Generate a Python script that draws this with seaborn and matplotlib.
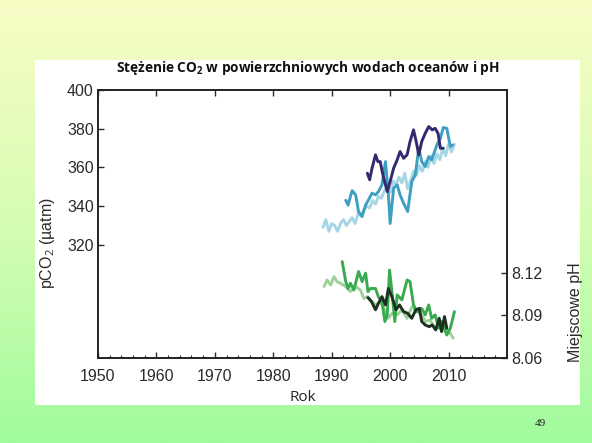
import matplotlib
matplotlib.use("Agg")
import matplotlib.pyplot as plt
from matplotlib.colors import LinearSegmentedColormap
from matplotlib.patches import Rectangle
from matplotlib.ticker import MultipleLocator
import seaborn as sns
import pandas as pd
import numpy as np

# pCO2 (uatm) - Hawaii (ALOHA), Bermuda (BATS), Wyspy Kanaryjskie (ESTOC)
aloha_lata = [1988.5, 1989.0, 1989.5, 1990.0, 1990.5, 1991.0, 1991.5, 1992.0, 1992.5, 1993.0,
              1993.5, 1994.0, 1994.5, 1995.0, 1995.5, 1996.0, 1996.5, 1997.0, 1997.5, 1998.0,
              1998.5, 1999.0, 1999.5, 2000.0, 2000.5, 2001.0, 2001.5, 2002.0, 2002.5, 2003.0,
              2003.5, 2004.0, 2004.5, 2005.0, 2005.5, 2006.0, 2006.5, 2007.0, 2007.5, 2008.0,
              2008.5, 2009.0, 2009.5, 2010.0, 2010.5, 2011.0]
aloha_pco2 = [329, 333, 327, 331, 330, 327, 331, 333, 330, 332,
              334, 331, 336, 335, 338, 340, 339, 343, 341, 345,
              344, 348, 350, 347, 353, 351, 355, 352, 357, 349,
              353, 358, 356, 361, 358, 363, 360, 366, 362, 367,
              364, 370, 366, 372, 368, 372]

bats_lata = [1992.4, 1992.8, 1993.2, 1993.5, 1994.1, 1994.6, 1995.2, 1995.8, 1996.3, 1996.9,
             1997.5, 1998.0, 1998.6, 1999.2, 1999.7, 2000.0, 2000.6, 2001.2, 2001.7, 2002.3,
             2003.0, 2003.7, 2004.3, 2004.9, 2005.4, 2006.0, 2006.6, 2007.1, 2008.0, 2008.6,
             2009.1, 2009.7, 2010.3, 2010.7]
bats_pco2 = [343, 340.5, 345, 348, 345.8, 337, 334.6, 340.6, 343.2, 346.7,
             345.8, 347.5, 351, 363, 345.8, 331, 349.3, 351, 345.8, 341.5,
             337.2, 352.7, 356.1, 370, 363, 360.4, 365.6, 363.9, 371.6, 375.1,
             380.6, 380.2, 370.8, 371.6]

estoc_lata = [1996.1, 1996.5, 1996.9, 1997.5, 1997.9, 1998.3, 1998.7, 1999.5, 2000.0, 2000.6,
              2001.2, 2001.7, 2002.3, 2002.9, 2003.4, 2004.0, 2004.4, 2004.9, 2005.4, 2006.0,
              2006.6, 2007.2, 2007.7, 2008.2, 2008.6, 2009.1]
estoc_pco2 = [357, 353.6, 359.6, 366.5, 363, 363, 357, 347.5, 352.7, 359.6,
              363.9, 368.2, 364.7, 366.5, 373.3, 379.4, 374.2, 366.5, 373.3, 377.6,
              381.1, 379.4, 380.2, 377.6, 369.9, 369.9]

# pH
aloha_ph_lata = [1988.7, 1989.2, 1989.8, 1990.4, 1990.9, 1991.5, 1992.4, 1993.2, 1994.1, 1994.9,
                 1995.5, 1996.1, 1996.6, 1997.5, 1998.3, 1998.9, 1999.7, 2000.3, 2001.2, 2002.0,
                 2002.9, 2003.7, 2004.6, 2005.4, 2006.0, 2006.8, 2007.7, 2008.6, 2009.4, 2010.3,
                 2010.8]
aloha_ph = [8.1104, 8.115, 8.1115, 8.1174, 8.1139, 8.1127, 8.1104, 8.1068, 8.1104, 8.108,
            8.102, 8.1033, 8.101, 8.0974, 8.0998, 8.095, 8.088, 8.0915, 8.0904, 8.094,
            8.088, 8.096, 8.0927, 8.0904, 8.0857, 8.0868, 8.081, 8.0857, 8.081, 8.0774,
            8.0739]

bats_ph_lata = [1991.8, 1992.4, 1992.8, 1993.2, 1993.8, 1994.6, 1995.2, 1995.8, 1996.2, 1996.6,
                1997.5, 1998.0, 1998.6, 1999.1, 1999.5, 1999.9, 2000.3, 2000.8, 2001.2, 2002.0,
                2002.9, 2003.4, 2004.0, 2004.6, 2005.4, 2006.0, 2006.6, 2007.1, 2007.7, 2008.3,
                2008.8, 2009.7, 2010.3, 2011.0]
bats_ph = [8.128, 8.1139, 8.109, 8.1127, 8.108, 8.121, 8.1139, 8.1198, 8.1068, 8.109,
           8.109, 8.103, 8.0998, 8.0857, 8.0904, 8.122, 8.1068, 8.0857, 8.1045, 8.101,
           8.115, 8.1139, 8.0974, 8.0927, 8.095, 8.0904, 8.0974, 8.088, 8.0904, 8.081,
           8.0857, 8.0762, 8.081, 8.0927]

estoc_ph_lata = [1996.2, 1996.8, 1997.5, 1998.0, 1998.6, 1999.2, 1999.7, 2000.3, 2001.0, 2001.6,
                 2002.3, 2003.0, 2003.7, 2004.4, 2005.0, 2005.4, 2006.0, 2006.7, 2007.2, 2007.8,
                 2008.4, 2008.8, 2009.3, 2009.7]
estoc_ph = [8.1026, 8.0998, 8.094, 8.0986, 8.1033, 8.0974, 8.109, 8.1033, 8.094, 8.0974,
            8.0927, 8.0915, 8.088, 8.094, 8.095, 8.0857, 8.0833, 8.0821, 8.0833, 8.0798,
            8.088, 8.0786, 8.0892, 8.081]

lewe_ticki = [320, 340, 360, 380, 400]
prawe_ticki = [8.06, 8.09, 8.12]
rok_ticki = [1950, 1960, 1970, 1980, 1990, 2000, 2010]

kolory_co2 = {"ALOHA": "#a6d5e3", "BATS": "#3f9fc2", "ESTOC": "#33296f"}
kolory_ph = {"ALOHA": "#9cd297", "BATS": "#39ab4f", "ESTOC": "#1e301f"}

df_co2 = pd.concat([
    pd.DataFrame({"Rok": aloha_lata, "pCO2": aloha_pco2, "Stacja": "ALOHA"}),
    pd.DataFrame({"Rok": bats_lata, "pCO2": bats_pco2, "Stacja": "BATS"}),
    pd.DataFrame({"Rok": estoc_lata, "pCO2": estoc_pco2, "Stacja": "ESTOC"}),
], ignore_index=True)
df_ph = pd.concat([
    pd.DataFrame({"Rok": aloha_ph_lata, "pH": aloha_ph, "Stacja": "ALOHA"}),
    pd.DataFrame({"Rok": bats_ph_lata, "pH": bats_ph, "Stacja": "BATS"}),
    pd.DataFrame({"Rok": estoc_ph_lata, "pH": estoc_ph, "Stacja": "ESTOC"}),
], ignore_index=True)

sns.set_style("ticks")
plt.rcParams["font.family"] = ["Liberation Sans", "DejaVu Sans"]
plt.rcParams["mathtext.fontset"] = "custom"
plt.rcParams["mathtext.rm"] = "Open Sans"
plt.rcParams["mathtext.bf"] = "Open Sans:bold"

fig = plt.figure(figsize=(5.92, 4.43), dpi=100)

# tlo slajdu - gradient zolty -> zielony
bg = fig.add_axes([0, 0, 1, 1], zorder=-10)
cmap = LinearSegmentedColormap.from_list("slajd", ["#f8fcc6", "#d6fdb4", "#a0fb9e"])
bg.imshow(np.linspace(0, 1, 256).reshape(-1, 1), aspect="auto", cmap=cmap,
          extent=[0, 1, 0, 1], origin="upper")
bg.set_xlim(0, 1)
bg.set_ylim(0, 1)
bg.axis("off")
bg.add_patch(Rectangle((35 / 592, 1 - 405 / 443), (580 - 35) / 592, (405 - 60) / 443,
                       facecolor="white", edgecolor="none"))

ax = fig.add_axes([98 / 592, 1 - 358 / 443, (507 - 98) / 592, (358 - 90) / 443])
ax2 = ax.twinx()

for st in ["ALOHA", "BATS", "ESTOC"]:
    sns.lineplot(data=df_co2[df_co2["Stacja"] == st], x="Rok", y="pCO2",
                 color=kolory_co2[st], lw=2.1, ax=ax, sort=False)
    sns.lineplot(data=df_ph[df_ph["Stacja"] == st], x="Rok", y="pH",
                 color=kolory_ph[st], lw=2.1, ax=ax2, sort=False)

ax.set_xlim(1950, 2020)
ax.set_ylim(261.5, 400)
ax2.set_ylim(8.06, 8.249)
ax.set_xticks(rok_ticki)
ax.xaxis.set_minor_locator(MultipleLocator(2))
ax.set_yticks(lewe_ticki)
ax2.set_yticks(prawe_ticki)
ax2.set_yticklabels([f"{v:.2f}" for v in prawe_ticki])

for a in (ax, ax2):
    for s in a.spines.values():
        s.set_linewidth(1.2)
        s.set_color("#222222")
ax.tick_params(axis="x", which="major", direction="in", length=4, width=1, top=True,
               labelsize=11.5, colors="#2a2a2a", pad=8)
ax.tick_params(axis="x", which="minor", direction="in", length=2, width=0.8, top=False)
ax.tick_params(axis="y", direction="in", length=4, width=1, labelsize=11.5,
               colors="#2a2a2a", pad=3)
ax2.tick_params(axis="y", direction="in", length=4, width=1, labelsize=11.5,
                colors="#2a2a2a", pad=3)

ax.set_xlabel("Rok", fontsize=11, family=["Open Sans", "DejaVu Sans"], color="#222222",
              labelpad=4)
ax.set_ylabel("pCO$_2$ (µatm)", fontsize=11.5, color="#2a2a2a")
ax.yaxis.set_label_coords(-0.10, 0.43)
ax2.set_ylabel("Miejscowe pH", fontsize=11.5, color="#2a2a2a", rotation=90)
ax2.yaxis.set_label_coords(1.15, 0.17)

fig.text(308 / 592, 1 - 68 / 443,
         r"Stężenie CO$\mathbf{_2}$ w powierzchniowych wodach oceanów i pH",
         ha="center", va="center", fontsize=9.8, fontweight="bold",
         family=["Open Sans", "DejaVu Sans"], color="#111111")
fig.text(540 / 592, 1 - 423 / 443, "49", ha="center", va="center", fontsize=8,
         family=["Liberation Serif", "DejaVu Serif"], color="#222222")

fig.savefig("out.png", dpi=100)
